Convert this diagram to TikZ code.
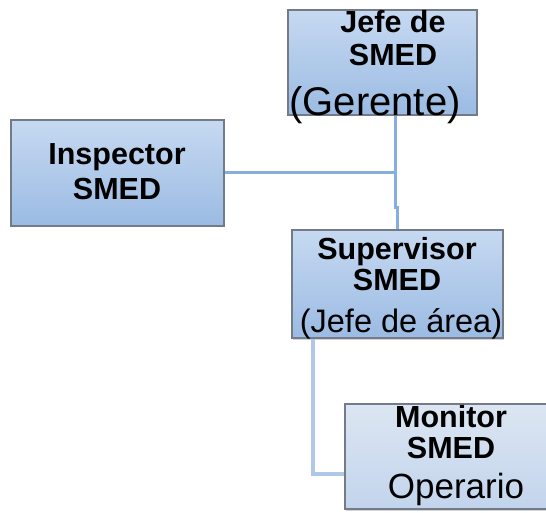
\documentclass[tikz,border=0pt]{standalone}
\usepackage{fontspec}
\setmainfont{Liberation Sans}
\usetikzlibrary{shadows}
\definecolor{boxtop}{HTML}{C6D9F1}
\definecolor{boxbot}{HTML}{9BBBE3}
\definecolor{lighttop}{HTML}{DCE6F2}
\definecolor{lightbot}{HTML}{C2D4EC}
\definecolor{edge}{HTML}{737B88}
\definecolor{link}{HTML}{86AEE0}
\definecolor{linklight}{HTML}{AFC7E8}
\tikzset{
  orgbox/.style={rectangle, draw=edge, line width=1.4pt, top color=boxtop, bottom color=boxbot,
    drop shadow={shadow xshift=1pt, shadow yshift=-1.5pt, opacity=0.35}, inner sep=0pt},
  orgboxlight/.style={orgbox, top color=lighttop, bottom color=lightbot},
  ttl/.style={anchor=base, inner sep=0pt, font=\fontsize{30.5}{33}\selectfont\bfseries},
  sub/.style={anchor=base, inner sep=0pt},
  linkline/.style={draw=link, line width=3pt},
  linklinelight/.style={draw=linklight, line width=3.2pt}
}
\begin{document}
\begin{tikzpicture}[x=1pt, y=-1pt]
\useasboundingbox (0,0) rectangle (546,513);
\clip (-10,-10) rectangle (556,523);

% boxes
\node[orgbox, minimum width=189pt, minimum height=105pt] (jefe) at (382.5,62.5) {};
\node[orgbox, minimum width=213pt, minimum height=106pt] (insp) at (117.5,173) {};
\node[orgbox, minimum width=211pt, minimum height=108pt] (sup) at (397.5,284) {};
\node[orgboxlight, minimum width=240pt, minimum height=105pt] (mon) at (465,456.5) {};

% connectors
\coordinate (jog) at (395,208);
\coordinate (jogb) at (397,208);
\coordinate (corner) at (313,474);
\draw[linkline] (jefe.south -| jog) -- (jog) -- (jogb) -- (sup.north -| jogb);
\draw[linkline] (insp.east) -- (insp.east -| jog);
\draw[linklinelight] (sup.south -| corner) -- (corner) -- (corner -| mon.west);

% texts
\node[ttl] (jefe1) at (393,33) {Jefe de};
\node[ttl] (jefe2) at (393,66) {SMED};
\node[sub, font=\fontsize{40}{43}\selectfont] (jefe3) at (375,116) {(Gerente)};

\node[ttl] (insp1) at (117,165) {Inspector};
\node[ttl] (insp2) at (117,200) {SMED};

\node[ttl] (sup1) at (397,259) {Supervisor};
\node[ttl] (sup2) at (397,290) {SMED};
\node[sub, font=\fontsize{32.5}{35}\selectfont] (sup3) at (401,332) {(Jefe de área)};

\node[ttl] (mon1) at (451,427) {Monitor};
\node[ttl] (mon2) at (451,458) {SMED};
\node[sub, font=\fontsize{35}{38}\selectfont] (mon3) at (456,498) {Operario};
\end{tikzpicture}
\end{document}
